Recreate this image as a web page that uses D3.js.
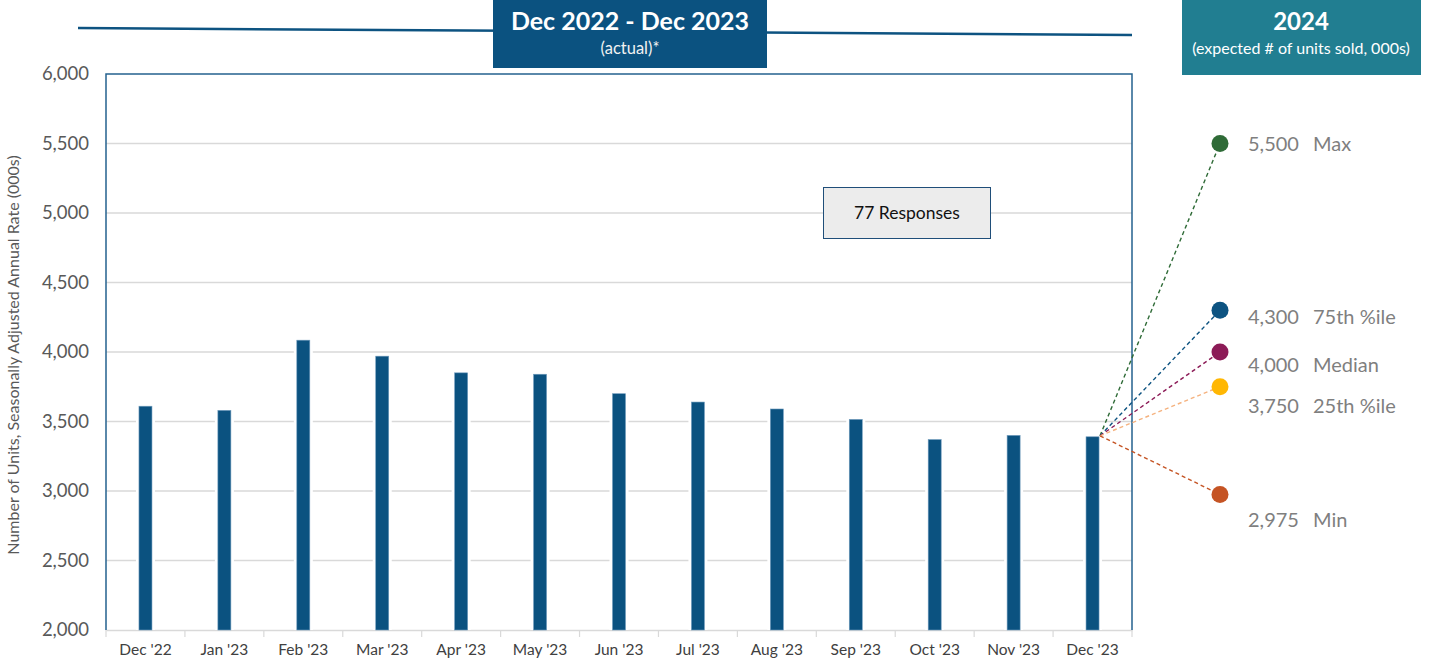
<!DOCTYPE html>
<html>
<head>
<meta charset="utf-8">
<script src="https://cdn.jsdelivr.net/npm/d3@7"></script>
<style>
  html, body { margin: 0; padding: 0; background: #fff; }
  svg { display: block; font-family: Lato, "Open Sans", sans-serif; }
</style>
</head>
<body>
<svg id="chart" width="1429" height="662"></svg>
<script>
// Monthly sales, seasonally adjusted annual rate (000s)
const months = ["Dec '22", "Jan '23", "Feb '23", "Mar '23", "Apr '23", "May '23", "Jun '23",
                "Jul '23", "Aug '23", "Sep '23", "Oct '23", "Nov '23", "Dec '23"];
const units = [3610, 3580, 4085, 3970, 3850, 3840, 3700, 3640, 3590, 3515, 3370, 3400, 3390];

// 2024 survey expectations
const forecastNames = ["Max", "75th %ile", "Median", "25th %ile", "Min"];
const forecastValues = [5500, 4300, 4000, 3750, 2975];
const forecastDotColors = ["#2f6b37", "#0d5381", "#8c1b57", "#ffb703", "#c55424"];
const forecastLineColors = ["#2f6b37", "#0d5381", "#8c1b57", "#f5b27f", "#c55424"];

const yTicks = [2000, 2500, 3000, 3500, 4000, 4500, 5000, 5500, 6000];
const responses = "77 Responses";

const svg = d3.select("#chart");
const plot = { left: 106, right: 1132, top: 74, bottom: 630 };

const x = d3.scaleBand().domain(months).range([plot.left, plot.right]).paddingInner(0).paddingOuter(0);
const y = d3.scaleLinear().domain([2000, 6000]).range([plot.bottom, plot.top]);
const barW = 13;
const fmt = d3.format(",");

// Header rule and banners
svg.append("line")
  .attr("x1", 78).attr("y1", 28).attr("x2", 1132).attr("y2", 35)
  .attr("stroke", "#0d5381").attr("stroke-width", 2.5);

svg.append("rect").attr("x", 493).attr("y", 0).attr("width", 274).attr("height", 68).attr("fill", "#0b5280");
svg.append("text").attr("x", 630).attr("y", 30).attr("text-anchor", "middle")
  .attr("fill", "#fff").attr("font-size", 25).attr("font-weight", 700).text("Dec 2022 - Dec 2023");
svg.append("text").attr("x", 630).attr("y", 54).attr("text-anchor", "middle")
  .attr("fill", "#f2f2f2").attr("font-size", 16.5).text("(actual)*");

svg.append("rect").attr("x", 1182).attr("y", 0).attr("width", 239).attr("height", 75).attr("fill", "#217e91");
svg.append("text").attr("x", 1301).attr("y", 30).attr("text-anchor", "middle")
  .attr("fill", "#fff").attr("font-size", 24).attr("font-weight", 700).text("2024");
svg.append("text").attr("x", 1301).attr("y", 54).attr("text-anchor", "middle")
  .attr("fill", "#fff").attr("font-size", 16).text("(expected # of units sold, 000s)");

// Gridlines
svg.append("g").selectAll("line")
  .data(yTicks.filter(d => d > 2000 && d < 6000))
  .join("line")
  .attr("x1", plot.left).attr("x2", plot.right)
  .attr("y1", d => y(d)).attr("y2", d => y(d))
  .attr("stroke", "#d9d9d9").attr("stroke-width", 1.5);

// Y axis labels
const yAxis = d3.axisLeft(y).tickValues(yTicks).tickFormat(fmt).tickSize(0).tickPadding(17);
const yg = svg.append("g").attr("transform", `translate(${plot.left},0)`).call(yAxis);
yg.select(".domain").remove();
yg.selectAll("text").attr("fill", "#595959").attr("font-size", 18.5).attr("font-family", "Lato, sans-serif");

svg.append("text")
  .attr("transform", `translate(19,${(plot.top + plot.bottom) / 2 + 3}) rotate(-90)`)
  .attr("text-anchor", "middle").attr("fill", "#595959").attr("font-size", 16)
  .text("Number of Units, Seasonally Adjusted Annual Rate (000s)");

// X axis
const xAxis = d3.axisBottom(x).tickSize(0).tickPadding(14);
const xg = svg.append("g").attr("transform", `translate(0,${plot.bottom})`).call(xAxis);
xg.select(".domain").attr("stroke", "#d9d9d9").attr("stroke-width", 1.5);
xg.selectAll("text").attr("fill", "#404040").attr("font-size", 15.5).attr("font-family", "Lato, sans-serif");
xg.selectAll(".boundary").data(d3.range(months.length + 1)).join("line")
  .attr("class", "boundary")
  .attr("x1", i => plot.left + i * x.step()).attr("x2", i => plot.left + i * x.step())
  .attr("y1", 0).attr("y2", 7).attr("stroke", "#d9d9d9").attr("stroke-width", 1.2);

// Bars, with a white halo that breaks the gridlines
const bars = svg.append("g");
bars.selectAll("rect.halo").data(months).join("rect").attr("class", "halo")
  .attr("x", d => x(d) + x.bandwidth() / 2 - barW / 2 - 3)
  .attr("width", barW + 6)
  .attr("y", (d, i) => y(units[i]))
  .attr("height", (d, i) => y(2000) - y(units[i]))
  .attr("fill", "#fff");
bars.selectAll("rect.bar").data(months).join("rect").attr("class", "bar")
  .attr("x", d => x(d) + x.bandwidth() / 2 - barW / 2)
  .attr("width", barW)
  .attr("y", (d, i) => y(units[i]))
  .attr("height", (d, i) => y(2000) - y(units[i]))
  .attr("fill", "#0b5280")
  .attr("stroke", "#6f9bbd").attr("stroke-width", 0.6);

// Plot frame (left, top, right)
svg.append("path")
  .attr("d", `M${plot.left},${plot.bottom}V${plot.top}H${plot.right}V${plot.bottom}`)
  .attr("fill", "none").attr("stroke", "#25628f").attr("stroke-width", 1.5);

// Responses box
svg.append("rect").attr("x", 823.5).attr("y", 187.5).attr("width", 167).attr("height", 51)
  .attr("fill", "#ececec").attr("stroke", "#1f4e79").attr("stroke-width", 1);
svg.append("text").attr("x", 907).attr("y", 219).attr("text-anchor", "middle")
  .attr("fill", "#111").attr("font-size", 17.5).text(responses);

// Forecast rays from the last bar
const lastIdx = months.length - 1;
const ox = x(months[lastIdx]) + x.bandwidth() / 2 + barW / 2 + 1;
const oy = y(units[lastIdx]) - 1;
const dotX = 1220;
const labelDy = [0, 7, 13, 19, 26];

const fc = svg.append("g");
fc.selectAll("line").data(forecastValues).join("line")
  .attr("x1", ox).attr("y1", oy)
  .attr("x2", dotX).attr("y2", d => y(d))
  .attr("stroke", (d, i) => forecastLineColors[i])
  .attr("stroke-width", 1.4).attr("stroke-dasharray", "4,3");
fc.selectAll("circle").data(forecastValues).join("circle")
  .attr("cx", dotX).attr("cy", d => y(d)).attr("r", 8.5)
  .attr("fill", (d, i) => forecastDotColors[i]);
fc.selectAll("text.val").data(forecastValues).join("text").attr("class", "val")
  .attr("x", 1248).attr("y", (d, i) => y(d) + labelDy[i] + 7)
  .attr("fill", "#7f7f7f").attr("font-size", 20).text(d => fmt(d));
fc.selectAll("text.name").data(forecastValues).join("text").attr("class", "name")
  .attr("x", 1313).attr("y", (d, i) => y(d) + labelDy[i] + 7)
  .attr("fill", "#7f7f7f").attr("font-size", 20).text((d, i) => forecastNames[i]);
</script>
</body>
</html>
